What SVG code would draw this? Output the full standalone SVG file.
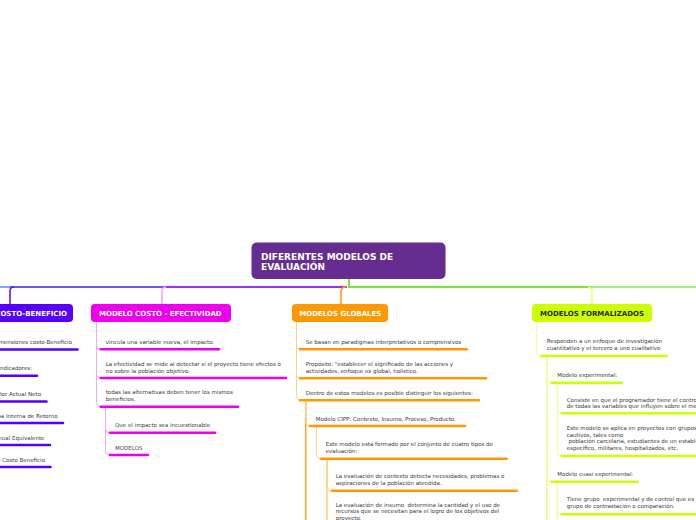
<svg xmlns="http://www.w3.org/2000/svg" width="696" height="520" viewBox="0 0 696 520">
<style>
.t{font-family:"DejaVu Sans",Verdana,sans-serif;font-size:5.5px;fill:#3a3a3a}
.nt{font-family:"DejaVu Sans",Verdana,sans-serif;font-size:7px;font-weight:bold;fill:#fff}
.rt{font-family:"DejaVu Sans",Verdana,sans-serif;font-size:9px;font-weight:bold;fill:#fff}
.u{fill:none;stroke-width:2.6;stroke-linecap:round}
.ucb{stroke:#5500ff}.uce{stroke:#ee00ee}.ugl{stroke:#ff9900}.ufo{stroke:#ccff00}
.c{fill:none;stroke-width:1}
.cce{stroke:#f4a6f4}.cgl{stroke:#ffd28a}.cfo{stroke:#ecff9a}
</style>
<rect width="696" height="520" fill="#fff"/>
<g id="connectors" fill="none">
<path d="M-5,287H10" stroke="#82a9f3" stroke-width="2"/>
<path d="M10,287H162" stroke="#6658f0" stroke-width="2"/>
<path d="M162,287H347" stroke="#a52cf0" stroke-width="2"/>
<path d="M14,287Q10,287 10,291V304" stroke="#5a1af8" stroke-width="1.6"/>
<path d="M166,287Q162,287 162,291V304" stroke="#f0a2f0" stroke-width="1.5"/>
<path d="M346,287Q341,287 341,292V304" stroke="#ff9900" stroke-width="1.5"/>
<path d="M349,279V287H592" stroke="#7fe339" stroke-width="2"/>
<path d="M592,287H700" stroke="#9cef7a" stroke-width="2"/>
<path d="M588,287Q592,287 592,291V304" stroke="#e2ff7a" stroke-width="1.5"/>
<path class="c cce" d="M96.5,322V345.3Q96.5,349.3 100.5,349.3M96.5,322V374Q96.5,378 100.5,378M96.5,322V402.7Q96.5,406.7 100.5,406.7"/>
<path class="c cce" d="M105.5,407V428.7Q105.5,432.7 109.5,432.7M105.5,407V451Q105.5,455 109.5,455"/>
<path class="c cgl" d="M296.5,322V345.3Q296.5,349.3 300.5,349.3M296.5,322V374.3Q296.5,378.3 300.5,378.3M296.5,322V396.3Q296.5,400.3 300.5,400.3"/>
<path d="M305.7,400.3V521" stroke="#ffa31a" stroke-width="1.5"/>
<path class="c cgl" d="M305.7,400.3V422Q305.7,426 309.7,426"/>
<path class="c cgl" d="M316.5,426V454.7Q316.5,458.7 320.5,458.7"/>
<path d="M327,458.7V521" stroke="#ffbf5c" stroke-width="1.2"/>
<path class="c cgl" d="M327,458.7V486.7Q327,490.7 331,490.7"/>
<path class="c cfo" d="M536.7,322V352Q536.7,356 540.7,356"/>
<path d="M546.7,356V521" stroke="#e4ff70" stroke-width="1.5"/>
<path class="c cfo" d="M546.7,356V378.7Q546.7,382.7 550.7,382.7M546.7,356V477.7Q546.7,481.7 550.7,481.7"/>
<path class="c cfo" d="M557.3,383V409.3Q557.3,413.3 561.3,413.3M557.3,383V452Q557.3,456 561.3,456"/>
<path class="c cfo" d="M557.3,482V510.3Q557.3,514.3 561.3,514.3M557.3,482V521"/>
</g>
<g id="root">
<rect x="251.5" y="242.5" width="194" height="36.5" rx="5" fill="#662d91"/>
<text class="rt" x="261" y="259.5">DIFERENTES MODELOS DE</text>
<text class="rt" x="261" y="270">EVALUACIÓN</text>
</g>
<g id="costo-beneficio">
<rect x="-47" y="304" width="120" height="18" rx="4" fill="#5500ff"/>
<text class="nt" x="67" y="315.7" text-anchor="end">MODELO COSTO-BENEFICIO</text>
</g>
<g id="cb-children">
<path class="u ucb" d="M-10,349.5H77.5M-10,375.7H37M-10,401.5H46.5M-10,423H63M-10,445H50M-10,467H50.5"/>
<text class="t" x="72" y="344" text-anchor="end">Dimensiones costo-Beneficio</text>
<text class="t" x="32" y="370" text-anchor="end">Indicadores:</text>
<text class="t" x="41" y="396" text-anchor="end">Valor Actual Neto</text>
<text class="t" x="57.5" y="417.5" text-anchor="end">Tasa Interna de Retorno</text>
<text class="t" x="44.5" y="439.5" text-anchor="end">Costo Anual Equivalente</text>
<text class="t" x="45" y="461.5" text-anchor="end">Relación Costo Beneficio</text>
</g>
<g id="costo-efectividad">
<rect x="91" y="304" width="140" height="18" rx="4" fill="#ee00ee"/>
<text class="nt" x="99" y="315.7">MODELO COSTO - EFECTIVIDAD</text>
</g>
<g id="ce-children">
<path class="u uce" d="M100.7,349.3H219M100.7,378H286M100.7,406.7H238M110,432.7H215M110,455H148"/>
<text class="t" x="105.7" y="344">vincula una variable nueva, el impacto.</text>
<text class="t" x="105.7" y="365.5">La efectividad se mide al detectar si el proyecto tiene efectos o</text>
<text class="t" x="105.7" y="372.5">no sobre la población objetivo.</text>
<text class="t" x="105.7" y="394">todas las alternativas deben tener los mismos</text>
<text class="t" x="105.7" y="401">beneficios,</text>
<text class="t" x="115" y="427">Que el impacto sea incuestionable</text>
<text class="t" x="115" y="449.5">MODELOS</text>
</g>
<g id="globales">
<rect x="292" y="304" width="96" height="18" rx="4" fill="#ff9900"/>
<text class="nt" x="299.3" y="315.7">MODELOS GLOBALES</text>
</g>
<g id="gl-children">
<path class="u ugl" d="M300,349.3H466.7M300,378.3H486M300,400.3H479M310,426H465M321,458.7H506.7M332,490.7H516.7"/>
<text class="t" x="305.7" y="344">Se basan en paradigmas interpretativos o comprensivos</text>
<text class="t" x="305.7" y="366">Propósito: "establecer el significado de las acciones y</text>
<text class="t" x="305.7" y="372.8">actividades, enfoque es global, holístico.</text>
<text class="t" x="305.7" y="394.8">Dentro de estos modelos es posible distinguir los siguientes:</text>
<text class="t" x="315.7" y="420.5">Modelo CIPP: Contexto, Insumo, Proceso, Producto.</text>
<text class="t" x="325.7" y="446">Este modelo está formado por el conjunto de cuatro tipos de</text>
<text class="t" x="325.7" y="452.8">evaluación:</text>
<text class="t" x="335.7" y="478">La evaluación de contexto detecta necesidades, problemas o</text>
<text class="t" x="335.7" y="485">aspiraciones de la población atendida.</text>
<text class="t" x="335.7" y="506.5" xml:space="preserve">La evaluación de insumo  determina la cantidad y el uso de</text>
<text class="t" x="335.7" y="513">recursos que se necesitan para el logro de los objetivos del</text>
<text class="t" x="335.7" y="519.5">proyecto.</text>
</g>
<g id="formalizados">
<rect x="532" y="304" width="120" height="18" rx="4" fill="#ccff00"/>
<text class="nt" x="540" y="315.7" style="fill:#2a2a2a">MODELOS FORMALIZADOS</text>
</g>
<g id="fo-children">
<path class="u ufo" d="M541.7,356H666.7M551.7,382.7H621.7M561.7,413.3H700M561.7,456H700M551.7,481.7H637.7M561.7,514.3H700"/>
<text class="t" x="546.7" y="343.3">Responden a un enfoque de investigación</text>
<text class="t" x="546.7" y="350">cuantitativo y el tercero a uno cualitativo</text>
<text class="t" x="557.3" y="377">Modelo experimental:</text>
<text class="t" x="566.7" y="401.5">Consiste en que el programador tiene el control</text>
<text class="t" x="566.7" y="408">de todas las variables que influyen sobre el medio</text>
<text class="t" x="566.7" y="430">Este modelo se aplica en proyectos con grupos</text>
<text class="t" x="566.7" y="436.6">cautivos, tales como</text>
<text class="t" x="566.7" y="443.2" xml:space="preserve"> población carcelaria, estudiantes de un establecimiento</text>
<text class="t" x="566.7" y="449.8">específico, militares, hospitalizados, etc.</text>
<text class="t" x="557.3" y="476">Modelo cuasi experimental:</text>
<text class="t" x="566.7" y="501" xml:space="preserve">Tiene grupo  experimental y de control que es</text>
<text class="t" x="566.7" y="508">grupo de contrastación o comparación.</text>
</g>
</svg>
